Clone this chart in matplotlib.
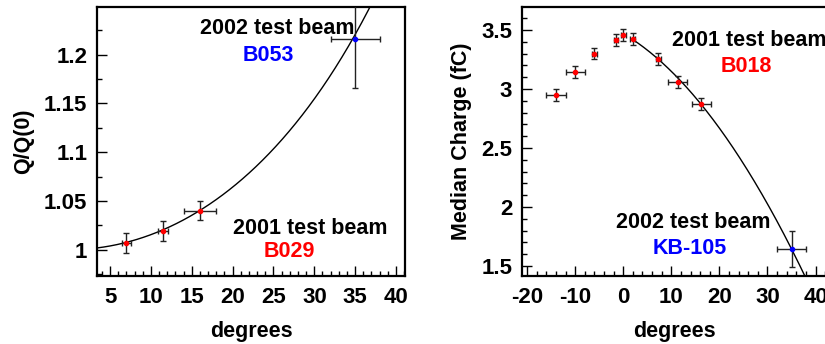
import numpy as np
import matplotlib.pyplot as plt
from matplotlib.ticker import MultipleLocator, FuncFormatter

plt.rcParams['font.family'] = ['Liberation Sans', 'DejaVu Sans']
plt.rcParams['font.weight'] = 'bold'
plt.rcParams['font.size'] = 15

# left panel: Q/Q(0) vs angle
l_x_2001 = [7, 11.5, 16]
l_y_2001 = [1.007, 1.019, 1.040]
l_xerr_2001 = [0.6, 0.6, 2]
l_yerr_2001 = [0.010, 0.010, 0.010]
l_x_2002 = [35]
l_y_2002 = [1.216]
l_xerr_2002 = [3]
l_yerr_2002 = [0.05]

# right panel: median charge vs angle
r_x_2001 = [-14, -10, -6, -1.5, 0, 2, 7.3, 11.3, 16.2]
r_y_2001 = [2.952, 3.144, 3.30, 3.413, 3.455, 3.424, 3.252, 3.057, 2.873]
r_xerr_2001 = [2, 2, 0.5, 0.5, 0.5, 0.5, 0.5, 2, 2]
r_yerr_2001 = [0.05, 0.05, 0.05, 0.05, 0.05, 0.05, 0.05, 0.05, 0.05]
r_x_2002 = [35]
r_y_2002 = [1.644]
r_xerr_2002 = [3]
r_yerr_2002 = [0.15]

# fit for the right panel (pol2)
fit_p0, fit_p1, fit_p2 = 3.47, -0.0240, -0.000805

fig = plt.figure(figsize=(8.25, 3.44), dpi=100)
ax1 = fig.add_axes([0.1176, 0.1977, 0.3733, 0.782])
ax2 = fig.add_axes([0.6327, 0.1977, 0.3693, 0.782])


def style(ax):
    for s in ax.spines.values():
        s.set_linewidth(1.6)
    ax.tick_params(which='both', direction='in', top=False, right=False,
                   width=1, labelsize=16)
    ax.tick_params(which='major', length=7)
    ax.tick_params(which='minor', length=3.5)
    ax.tick_params(axis='y', pad=7)
    ax.tick_params(axis='x', pad=8)
    ax.xaxis.set_major_formatter(FuncFormatter(lambda v, p: '%g' % v))
    ax.yaxis.set_major_formatter(FuncFormatter(lambda v, p: '%g' % v))


def points(ax, x, y, xe, ye, c):
    ax.errorbar(x, y, xerr=xe, yerr=ye, fmt='o', ms=3, mfc=c, mec=c,
                ecolor='#222222', elinewidth=1, capsize=2, capthick=1, zorder=3)


# left
t = np.linspace(3.4, 38, 300)
ax1.plot(t, 1 / np.cos(np.radians(t)), color='black', lw=1)
points(ax1, l_x_2001, l_y_2001, l_xerr_2001, l_yerr_2001, 'red')
points(ax1, l_x_2002, l_y_2002, l_xerr_2002, l_yerr_2002, 'blue')
ax1.set_xlim(3.4, 41.1)
ax1.set_ylim(0.973, 1.249)
ax1.xaxis.set_major_locator(MultipleLocator(5))
ax1.xaxis.set_minor_locator(MultipleLocator(1))
ax1.yaxis.set_major_locator(MultipleLocator(0.05))
ax1.yaxis.set_minor_locator(MultipleLocator(0.025))
style(ax1)
ax1.set_xlabel('degrees', fontsize=15.5, fontweight='bold', labelpad=9)
ax1.set_ylabel('Q/Q(0)', fontsize=15.5, fontweight='bold', labelpad=7)
ax1.text(25.5, 1.2265, '2002 test beam', ha='center', va='center', fontsize=15.5)
ax1.text(24.4, 1.199, 'B053', ha='center', va='center', fontsize=15.5, color='blue')
ax1.text(29.5, 1.0215, '2001 test beam', ha='center', va='center', fontsize=15.5)
ax1.text(27, 0.998, 'B029', ha='center', va='center', fontsize=15.5, color='red')

# right
u = np.linspace(2, 40, 300)
ax2.plot(u, fit_p0 + fit_p1 * u + fit_p2 * u ** 2, color='black', lw=1)
points(ax2, r_x_2001, r_y_2001, r_xerr_2001, r_yerr_2001, 'red')
points(ax2, r_x_2002, r_y_2002, r_xerr_2002, r_yerr_2002, 'blue')
ax2.set_xlim(-21.05, 42.3)
ax2.set_ylim(1.415, 3.695)
ax2.xaxis.set_major_locator(MultipleLocator(10))
ax2.xaxis.set_minor_locator(MultipleLocator(2))
ax2.yaxis.set_major_locator(MultipleLocator(0.5))
ax2.yaxis.set_minor_locator(MultipleLocator(0.1))
style(ax2)
ax2.set_xlabel('degrees', fontsize=15.5, fontweight='bold', labelpad=9)
ax2.set_ylabel('Median Charge (fC)', fontsize=15.5, fontweight='bold', labelpad=7)
ax2.text(26.2, 3.41, '2001 test beam', ha='center', va='center', fontsize=15.5)
ax2.text(25.5, 3.19, 'B018', ha='center', va='center', fontsize=15.5, color='red')
ax2.text(14.6, 1.87, '2002 test beam', ha='center', va='center', fontsize=15.5)
ax2.text(13.9, 1.645, 'KB-105', ha='center', va='center', fontsize=15.5, color='blue')

fig.savefig('out.png', dpi=100)
